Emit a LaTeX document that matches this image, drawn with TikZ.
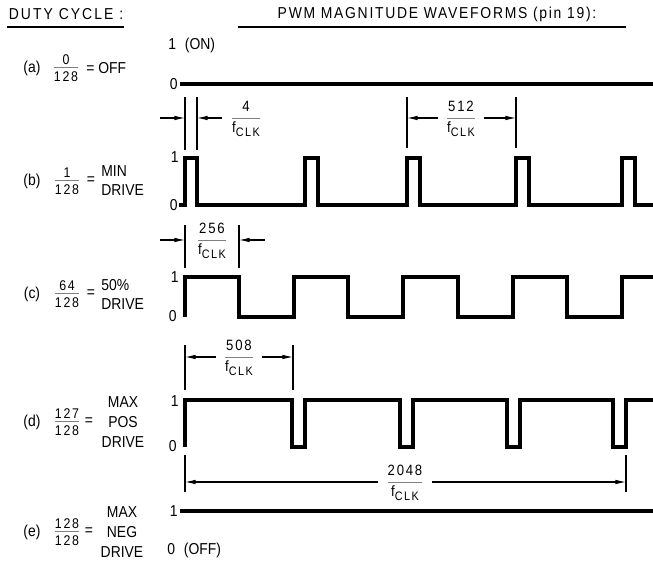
\documentclass[tikz,border=0pt]{standalone}
\usepackage{fontspec}
\setmainfont{Liberation Sans}[FakeStretch=0.88]
\newfontfamily\dutyfont{Liberation Sans}[FakeStretch=0.88,LetterSpace=13]
\newfontfamily\pwmfont{Liberation Sans}[FakeStretch=0.88,LetterSpace=11]
\newfontfamily\numfont{Liberation Sans}[FakeStretch=0.88,LetterSpace=12]
\usetikzlibrary{arrows.meta,positioning}

\newcommand{\fclk}{f\raisebox{-0.5ex}{\fontsize{7}{8}\numfont CLK}}
\newcommand{\ratio}[2]{$\color{gray}\frac{\mbox{\color{black}\numfont#1\rule[-1.2pt]{0pt}{1pt}}}%
  {\mbox{\color{black}\numfont#2\rule{0pt}{7pt}}}$}
\newcommand{\dimratio}[2]{$\color{gray}\displaystyle\frac{\mbox{\color{black}\numfont#1}}%
  {\mbox{\color{black}#2}}$}

\begin{document}
\begin{tikzpicture}[x=0.02cm, y=-0.02cm,
  >={Latex[length=6pt,width=2.6pt]},
  wave/.style={line width=2.2pt},
  bar/.style={line width=2.6pt},
  dimline/.style={line width=0.6pt},
  lbl/.style={inner sep=0pt, font=\fontsize{9}{10.8}\selectfont},
  ratiotext/.style={inner sep=0pt, font=\fontsize{8}{9}\selectfont},
  dimlabel/.style={anchor=base, inner xsep=4pt, inner ysep=0pt,
    font=\fontsize{8.5}{9}\selectfont}]

  \useasboundingbox (0,0) rectangle (653,563);

  \node[lbl] (DutyHead) at (66,14) {\dutyfont DUTY CYCLE :};
  \node[lbl] (PwmHead) at (437,14) {\pwmfont PWM MAGNITUDE WAVEFORMS (pin 19):};
  \draw[dimline] (7,27) -- (124,27);
  \draw[dimline] (238,27) -- (626,27);

  % (a) off
  \node[lbl] (TagA) at (32,68) {(a)};
  \node[ratiotext] (RatioA) at (66,68) {\ratio{0}{128}};
  \node[lbl,anchor=west] (DriveA) at (86,68) {= OFF};
  \node[lbl,anchor=west] (HighA) at (168,45) {1\hspace{5pt}(ON)};
  \node[lbl,anchor=east] (LowA) at (178,84) {0};
  \draw[bar] (180,84) -- (653,84);

  % (b) min drive
  \node[lbl] (TagB) at (32,181) {(b)};
  \node[ratiotext] (RatioB) at (67,181) {\ratio{1}{128}};
  \node[lbl] (EqB) at (91,181) {=};
  \node[lbl,anchor=west,align=left] (DriveB) at (101,181) {MIN\\DRIVE};
  \node[lbl,anchor=east] (HighB) at (179,157) {1};
  \node[lbl,anchor=east] (LowB) at (178,205) {0};

  \coordinate (PulseL) at (185,118);
  \coordinate (PulseR) at (197,118);
  \coordinate (PulseFromL) at (160,118);
  \coordinate (PulseFromR) at (222,118);
  \draw[dimline] (185,97) -- (185,150);
  \draw[dimline] (197,97) -- (197,150);
  \draw[dimline,->] (PulseFromL) -- (PulseL);
  \draw[dimline,->] (PulseFromR) -- (PulseR);
  \node[dimlabel] (DimPulse) at (246,121.7) {\dimratio{4}{\fclk}};

  \coordinate (PeriodL) at (407,118);
  \coordinate (PeriodR) at (516,118);
  \draw[dimline] (407,97) -- (407,148);
  \draw[dimline] (516,97) -- (516,148);
  \node[dimlabel] (DimPeriod) at (461,121.7) {\dimratio{512}{\fclk}};
  \draw[dimline,->] (DimPeriod.west |- PeriodL) -- (PeriodL);
  \draw[dimline,->] (DimPeriod.east |- PeriodR) -- (PeriodR);

  \draw[wave] (179,205) -- (185,205) |- (197,158) |- (305,205) |- (318,158)
  |- (407,205) |- (420,158) |- (516,205) |- (529,158) |- (622,205) |- (635,158)
  |- (653,205);

  % (c) 50% drive
  \node[lbl] (TagC) at (32,294) {(c)};
  \node[ratiotext] (RatioC) at (67,294) {\ratio{64}{128}};
  \node[lbl] (EqC) at (91,294) {=};
  \node[lbl,anchor=west,align=left] (DriveC) at (101,294) {50\%\\DRIVE};
  \node[lbl,anchor=east] (HighC) at (179,277) {1};
  \node[lbl,anchor=east] (LowC) at (177,316) {0};

  \coordinate (HalfL) at (185,240);
  \coordinate (HalfR) at (239,240);
  \coordinate (HalfFromL) at (160,240);
  \coordinate (HalfFromR) at (265,240);
  \draw[dimline] (185,225) -- (185,268);
  \draw[dimline] (239,225) -- (239,268);
  \draw[dimline,->] (HalfFromL) -- (HalfL);
  \draw[dimline,->] (HalfFromR) -- (HalfR);
  \node[dimlabel] (DimHalf) at (212,243.7) {\dimratio{256}{\fclk}};

  \draw[wave] (185,317) |- (239,277) |- (294,317) |- (348,277) |- (403,317)
  |- (458,277) |- (513,317) |- (567,277) |- (622,317) |- (653,277);

  % (d) max pos drive
  \node[lbl] (TagD) at (32,422) {(d)};
  \node[ratiotext] (RatioD) at (67,422) {\ratio{127}{128}};
  \node[lbl] (EqD) at (89,422) {=};
  \node[lbl,align=center,font=\fontsize{9}{11.3}\selectfont] (DriveD) at (123,422) {MAX\\POS\\DRIVE};
  \node[lbl,anchor=east] (HighD) at (179,401) {1};
  \node[lbl,anchor=east] (LowD) at (177,446) {0};

  \coordinate (HighL) at (185,357);
  \coordinate (HighR) at (293,357);
  \draw[dimline] (185,345) -- (185,390);
  \draw[dimline] (293,345) -- (293,390);
  \node[dimlabel] (DimHigh) at (239,360.7) {\dimratio{508}{\fclk}};
  \draw[dimline,->] (DimHigh.west |- HighL) -- (HighL);
  \draw[dimline,->] (DimHigh.east |- HighR) -- (HighR);

  \draw[wave] (185,447) |- (292,400) |- (305,447) |- (400,400) |- (413,447)
  |- (507,400) |- (520,447) |- (613,400) |- (626,447) |- (653,400);

  \coordinate (FrameL) at (185,482);
  \coordinate (FrameR) at (626,482);
  \draw[dimline] (185,455) -- (185,492);
  \draw[dimline] (626,455) -- (626,492);
  \node[dimlabel] (DimFrame) at (405,485.7) {\dimratio{2048}{\fclk}};
  \draw[dimline,->] (DimFrame.west |- FrameL) -- (FrameL);
  \draw[dimline,->] (DimFrame.east |- FrameR) -- (FrameR);

  % (e) max neg drive
  \node[lbl] (TagE) at (32,532) {(e)};
  \node[ratiotext] (RatioE) at (67,532) {\ratio{128}{128}};
  \node[lbl] (EqE) at (89,532) {=};
  \node[lbl,align=center,font=\fontsize{9}{11.3}\selectfont] (DriveE) at (122,532) {MAX\\NEG\\DRIVE};
  \node[lbl,anchor=east] (HighE) at (178,511) {1};
  \node[lbl,anchor=west] (LowE) at (167,550) {0\hspace{5pt}(OFF)};
  \draw[bar] (180,511) -- (653,511);
\end{tikzpicture}
\end{document}
